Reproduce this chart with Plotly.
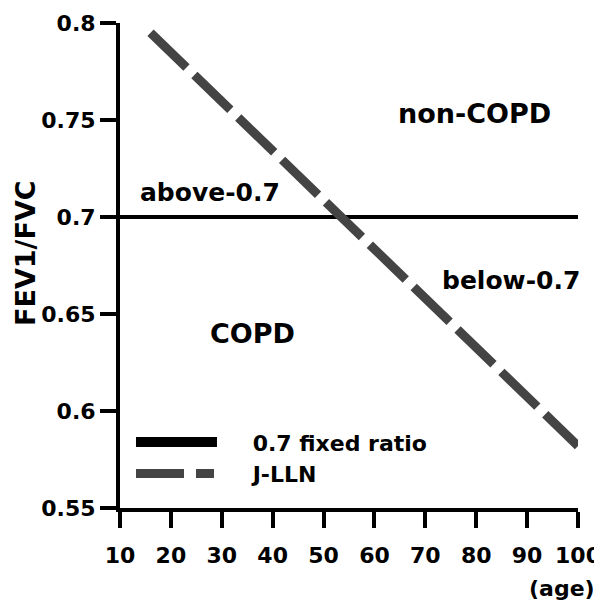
import plotly.graph_objects as go

# Data
age_fixed = [10, 100]
ratio_fixed = [0.7, 0.7]
age_lln = [16, 100]
ratio_lln = [0.795, 0.582]

x_ticks = [10, 20, 30, 40, 50, 60, 70, 80, 90, 100]
y_ticks = [0.55, 0.6, 0.65, 0.7, 0.75, 0.8]
y_tick_text = ["0.55", "0.6", "0.65", "0.7", "0.75", "0.8"]

region_labels = ["non-COPD", "above-0.7", "below-0.7", "COPD"]
region_x = [79.6, 27.7, 86.8, 36.1]
region_y = [0.7536, 0.7124, 0.6675, 0.640]

legend_names = ["0.7 fixed ratio", "J-LLN"]

# Styles
FONT = "DejaVu Sans"
DASH_COLOR = "#444444"
region_sizes = [27, 25, 25, 27]
NB = "\u00a0" * 4

fig = go.Figure()

fig.add_trace(go.Scatter(x=age_fixed, y=ratio_fixed, mode="lines",
                         line=dict(color="black", width=4),
                         showlegend=False, hoverinfo="skip"))
fig.add_trace(go.Scatter(x=age_lln, y=ratio_lln, mode="lines",
                         line=dict(color=DASH_COLOR, width=9, dash="50px,11px"),
                         showlegend=False, hoverinfo="skip"))
# legend entries
fig.add_trace(go.Scatter(x=[None], y=[None], mode="lines", name=NB + legend_names[0],
                         line=dict(color="black", width=10)))
fig.add_trace(go.Scatter(x=[None], y=[None], mode="lines", name=NB + legend_names[1],
                         line=dict(color=DASH_COLOR, width=9, dash="48px,12px,18px,12px")))

for t, x, y, s in zip(region_labels, region_x, region_y, region_sizes):
    fig.add_annotation(x=x, y=y, text=t, showarrow=False,
                       font=dict(family=FONT, size=s, color="black", weight="bold"),
                       xanchor="center", yanchor="middle")

fig.add_annotation(xref="paper", yref="paper", x=1.0415, y=-0.166, text="(age)",
                   showarrow=False, xanchor="right", yanchor="middle",
                   font=dict(family=FONT, size=22, color="black", weight="bold"))

fig.add_annotation(xref="paper", yref="paper", x=-0.205, y=0.526, text="FEV1/FVC",
                   showarrow=False, xanchor="center", yanchor="middle", textangle=-90,
                   font=dict(family=FONT, size=27, color="black", weight="bold"))

axis_common = dict(showline=True, linecolor="black", linewidth=4,
                   ticks="outside", ticklen=16, tickwidth=4, tickcolor="black",
                   showgrid=False, zeroline=False, automargin=False)

fig.update_xaxes(range=[10, 100], tickvals=x_ticks, ticklabelstandoff=9,
                 tickfont=dict(family=FONT, size=22, color="black", weight="bold"),
                 **axis_common)
fig.update_yaxes(range=[0.55, 0.8], tickvals=y_ticks, ticktext=y_tick_text,
                 tickfont=dict(family=FONT, size=22, color="black", weight="bold"),
                 **axis_common)

fig.update_layout(
    width=594, height=595,
    margin=dict(l=112, r=24, t=15, b=95),
    plot_bgcolor="white", paper_bgcolor="white",
    legend=dict(x=0.024, y=0.179, xanchor="left", yanchor="top",
                itemwidth=81, bgcolor="rgba(0,0,0,0)",
                font=dict(family=FONT, size=22, color="black", weight="bold"),
                tracegroupgap=0),
)

fig.write_html("out.html")
